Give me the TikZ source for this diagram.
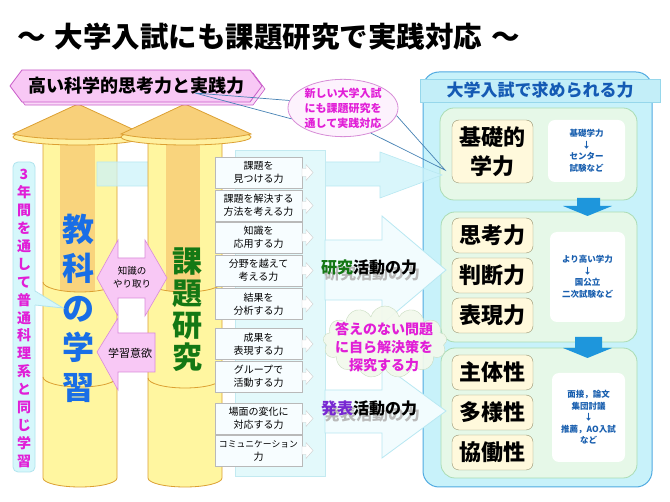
\documentclass[tikz,border=0pt]{standalone}
\usepackage{fontspec}
\setmainfont{Noto Sans CJK JP}
\usetikzlibrary{shapes.geometric,shapes.symbols}
\definecolor{mag}{RGB}{225,30,215}
\definecolor{pinkfill}{RGB}{248,200,245}
\definecolor{pinkline}{RGB}{200,90,200}
\definecolor{cone}{RGB}{248,208,122}
\definecolor{rim}{RGB}{255,240,160}
\definecolor{colfill}{RGB}{255,246,160}
\definecolor{colline}{RGB}{220,160,50}
\definecolor{stripe}{RGB}{249,212,125}
\definecolor{eduBlue}{RGB}{25,110,230}
\definecolor{resGreen}{RGB}{20,120,20}
\definecolor{lcyan}{RGB}{215,246,250}
\definecolor{lcyanline}{RGB}{170,225,235}
\definecolor{rpanel}{RGB}{200,242,250}
\definecolor{rpanelline}{RGB}{80,170,225}
\definecolor{hdrfill}{RGB}{195,238,248}
\definecolor{hdrline}{RGB}{150,215,235}
\definecolor{subfill}{RGB}{230,248,232}
\definecolor{subline}{RGB}{170,220,180}
\definecolor{labfill}{RGB}{255,249,220}
\definecolor{labline}{RGB}{150,145,110}
\definecolor{notetext}{RGB}{25,95,175}
\definecolor{hdrtext}{RGB}{20,90,180}
\definecolor{blueArrow}{RGB}{30,150,220}
\definecolor{purp}{RGB}{120,40,210}
\definecolor{tailc}{RGB}{70,130,180}
\definecolor{cloudfill}{RGB}{243,249,236}
\definecolor{cloudline}{RGB}{200,220,192}
\definecolor{callfill}{RGB}{214,247,251}
\definecolor{callline}{RGB}{176,228,238}
\definecolor{arrA}{RGB}{205,243,250}
\definecolor{arrBC}{RGB}{242,252,254}
\definecolor{arrline}{RGB}{184,232,242}
\definecolor{ellfill}{RGB}{253,242,253}
\definecolor{ellline}{RGB}{215,140,215}
\newcommand{\shadowtxt}[2]{\rlap{\raisebox{-6pt}{\hspace{3pt}\textcolor{gray!55}{#1}}}#2}
\tikzset{
 mbox/.style={draw=gray!55, fill=cyan!3, minimum width=87pt, minimum height=31pt, inner sep=0pt, align=center, font=\fontsize{10}{13}\selectfont},
 lab/.style={draw=labline, fill=labfill, rounded corners=7pt, minimum width=81pt, minimum height=35pt, inner sep=0pt, align=center, font=\fontsize{22}{29}\selectfont\bfseries},
 note/.style={fill=white, rounded corners=7pt, inner sep=0pt, align=center, text=notetext, font=\fontsize{8.5}{11.5}\selectfont\bfseries},
 subp/.style={draw=subline, fill=subfill, rounded corners=14pt, line width=0.8pt},
 colstroke/.style={draw=colline, line width=0.8pt},
 pinkshape/.style={fill=pinkfill, draw=pinkline!70, line width=0.6pt},
 bigarrow/.style={fill=arrBC, draw=arrline, line width=0.8pt},
 bluearr/.style={fill=blueArrow},
 chev/.pic={\draw[draw=gray!40, fill=white] (0,-4) -- (4,-4) -- (4,-8) -- (11,0) -- (4,8) -- (4,4) -- (0,4) -- cycle;},
}
\begin{document}
\begin{tikzpicture}[x=1pt,y=-1pt]
\useasboundingbox (0,0) rectangle (670,502);
\fill[white] (0,0) rectangle (670,502);

% ---------- right panel ----------
\draw[draw=rpanelline, fill=rpanel, line width=1pt, rounded corners=16pt] (423,72) rectangle (652,487);
\node[fill=hdrfill, draw=hdrline, minimum width=240pt, minimum height=23pt, inner sep=0pt, text=hdrtext, font=\fontsize{17}{17}\selectfont\bfseries] (hdr) at (540,90.5) {大学入試で求められる力};
\draw[subp] (440,108) rectangle (637,200);
\draw[subp] (441,212) rectangle (637,342);
\draw[subp] (441,348) rectangle (637,478);

\node[lab, minimum height=63pt] (kiso) at (492.5,151.5) {基礎的\\学力};
\node[lab] (shiko) at (492.5,235.5) {思考力};
\node[lab] (handan) at (492.5,275.5) {判断力};
\node[lab] (hyogen) at (492.5,315.5) {表現力};
\node[lab] (shutai) at (492.5,372.5) {主体性};
\node[lab] (tayo) at (492.5,412.5) {多様性};
\node[lab] (kyodo) at (492.5,452.5) {協働性};

\node[note, minimum width=77pt, minimum height=62pt] (n1) at (586.5,151) {基礎学力\\↓\\センター\\試験など};
\node[note, minimum width=75pt, minimum height=90pt] (n2) at (587.5,277) {より高い学力\\↓\\国公立\\二次試験など};
\node[note, minimum width=73pt, minimum height=89pt] (n3) at (588.5,417.5) {面接，論文\\集団討議\\↓\\推薦，AO入試\\など};

\fill[bluearr] (577,198) -- (600,198) -- (600,206) -- (612,206) -- (587.5,216) -- (563,206) -- (577,206) -- cycle;
\fill[bluearr] (575,337) -- (602,337) -- (602,348) -- (612,348) -- (587.5,358) -- (563,348) -- (575,348) -- cycle;

% ---------- column 1 ----------
\path[colstroke, fill=colfill] (43,140) -- (43,478) arc[start angle=180, end angle=0, x radius=37, y radius=9] -- (117,140) -- cycle;
\begin{scope}
\clip (43,140) -- (43,282) arc[start angle=180, end angle=0, x radius=37, y radius=10] -- (117,140) -- cycle;
\fill[stripe] (60,138) rectangle (95,300);
\end{scope}
\draw[colstroke] (43,282) arc[start angle=180, end angle=0, x radius=37, y radius=10];
\draw[colstroke] (43,377) arc[start angle=180, end angle=0, x radius=37, y radius=10];
\draw[colstroke, fill=rim] (78,137) ellipse [x radius=65, y radius=8];
\draw[colstroke, fill=cone] (78,104) -- (13,134) .. controls (40,141) and (116,141) .. (143,134) -- cycle;

% ---------- top arrow (behind column 2) ----------
\path[fill=arrA, draw=arrline, line width=0.6pt, fill opacity=0.75] (97,162) -- (380,162) -- (380,152) -- (442,175) -- (380,198) -- (380,186) -- (97,186) -- cycle;

% ---------- column 2 ----------
\path[colstroke, fill=colfill] (148,140) -- (148,478) arc[start angle=180, end angle=0, x radius=37, y radius=9] -- (222,140) -- cycle;
\begin{scope}
\clip (148,140) -- (148,282) arc[start angle=180, end angle=0, x radius=37, y radius=10] -- (222,140) -- cycle;
\fill[stripe] (166,138) rectangle (200,300);
\end{scope}
\draw[colstroke] (148,282) arc[start angle=180, end angle=0, x radius=37, y radius=10];
\draw[colstroke] (148,378) arc[start angle=180, end angle=0, x radius=37, y radius=10];
\draw[colstroke, fill=rim] (186,137) ellipse [x radius=65, y radius=8];
\draw[colstroke, fill=cone] (185,104) -- (121,134) .. controls (148,141) and (224,141) .. (251,134) -- cycle;

% ---------- middle panel and big arrows ----------
\draw[fill=lcyan!70!white, draw=lcyanline!70, line width=0.6pt] (235,150) rectangle (325,476);
\draw[bigarrow] (325,240) -- (382,240) -- (382,216) -- (446,270) -- (382,324) -- (382,300) -- (325,300) -- cycle;
\draw[bigarrow] (325,390) -- (382,390) -- (382,364) -- (446,411) -- (382,458) -- (382,433) -- (325,433) -- cycle;

\node[cloud, cloud puffs=13, aspect=1.8, draw=cloudline, fill=cloudfill, fill opacity=0.92, minimum width=124pt, minimum height=72pt] (cloud) at (385,342) {};
\node[text=mag, align=center, font=\fontsize{14}{18}\selectfont\bfseries] (cloudtxt) at (384,347) {答えのない問題\\に自ら解決策を\\探究する力};

\node[font=\fontsize{16}{16}\selectfont\bfseries] (rtxt) at (369,270) {\shadowtxt{研究活動の力}{\textcolor{resGreen}{研究}活動の力}};
\node[font=\fontsize{16}{16}\selectfont\bfseries] (ptxt) at (369,411) {\shadowtxt{発表活動の力}{\textcolor{purp}{発表}活動の力}};

% ---------- ability boxes ----------
\node[mbox] (b1) at (258.5,172.5) {課題を\\見つける力};
\node[mbox] (b2) at (258.5,205.5) {課題を解決する\\方法を考える力};
\node[mbox] (b3) at (258.5,237.5) {知識を\\応用する力};
\node[mbox] (b4) at (258.5,270.5) {分野を越えて\\考える力};
\node[mbox] (b5) at (258.5,304) {結果を\\分析する力};
\node[mbox] (b6) at (258.5,344) {成果を\\表現する力};
\node[mbox] (b7) at (258.5,376.5) {グループで\\活動する力};
\node[mbox] (b8) at (258.5,418.5) {場面の変化に\\対応する力};
\node[mbox] (b9) at (258.5,450.5) {{\fontsize{8.8}{13}\selectfont コミュニケーション}\\力};
\foreach \yy in {172.5,205.5,237.5,270.5,304,344,376.5,418.5,450.5}
  \pic at (302,\yy) {chev};

% ---------- pink exchange arrows ----------
\draw[pinkshape] (97,278) -- (118,240) -- (118,258) -- (145,258) -- (145,240) -- (167,278) -- (145,316) -- (145,298) -- (118,298) -- (118,316) -- cycle;
\node[align=center, font=\fontsize{9.5}{13}\selectfont] (know) at (132,277) {知識の\\やり取り};
\draw[pinkshape] (97,352) -- (118,318) -- (118,333) -- (155,333) -- (155,372) -- (118,372) -- (118,390) -- cycle;
\node[font=\fontsize{11}{13}\selectfont] (motiv) at (130,353) {学習意欲};

% ---------- column texts ----------
\node[font=\fontsize{32}{39.5}\selectfont\bfseries, text=eduBlue, align=center, inner sep=0pt] (edu) at (78,308) {教\\科\\の\\学\\習};
\node[font=\fontsize{30}{32}\selectfont\bfseries, text=resGreen, align=center, inner sep=0pt] (res) at (187,310) {課\\題\\研\\究};

% ---------- left vertical callout ----------
\draw[fill=callfill, draw=callline, line width=0.8pt, rounded corners=5pt] (13,162) rectangle (35,472);
\fill[callfill] (34,291) -- (63,308) -- (34,305) -- cycle;
\draw[callline, line width=0.8pt] (35,291) -- (63,308) -- (35,305);
\node[text=mag, align=center, font=\fontsize{14}{17.9}\selectfont\bfseries, inner sep=0pt] (three) at (24,318.5) {3\\年\\間\\を\\通\\し\\て\\普\\通\\科\\理\\系\\と\\同\\じ\\学\\習};

% ---------- banner ----------
\draw[fill=pinkfill!70!white, draw=pinkline, line width=0.6pt] (13,89) -- (25,73) -- (253,73) -- (265,89) -- (253,105) -- (25,105) -- cycle;
\draw[fill=pinkfill, draw=pinkline, line width=0.8pt] (10,86) -- (22,70) -- (250,70) -- (262,86) -- (250,102) -- (22,102) -- cycle;
\node[font=\fontsize{18}{18}\selectfont\bfseries] (banner) at (136,86) {高い科学的思考力と実践力};

% ---------- ellipse callout ----------
\node[ellipse, draw=ellline, fill=ellfill, line width=0.8pt, minimum width=110pt, minimum height=54pt, inner sep=0pt, align=center, text=mag, font=\fontsize{11}{15}\selectfont\bfseries] (callout) at (343,108) {新しい大学入試\\にも課題研究を\\通して実践対応};
\coordinate (tipL) at (195,93);
\coordinate (tipR) at (445,170);
\draw[tailc, line width=0.7pt] (callout.172) -- (tipL) -- (callout.192);
\draw[tailc, line width=0.7pt] (callout.-8) -- (tipR) -- (callout.-42);

% ---------- title ----------
\node[anchor=west, font=\fontsize{28.5}{30}\selectfont\bfseries, inner sep=0pt] (title) at (17,37) {～\hspace{9pt}大学入試にも課題研究で実践対応\hspace{9pt}～};
\end{tikzpicture}
\end{document}
